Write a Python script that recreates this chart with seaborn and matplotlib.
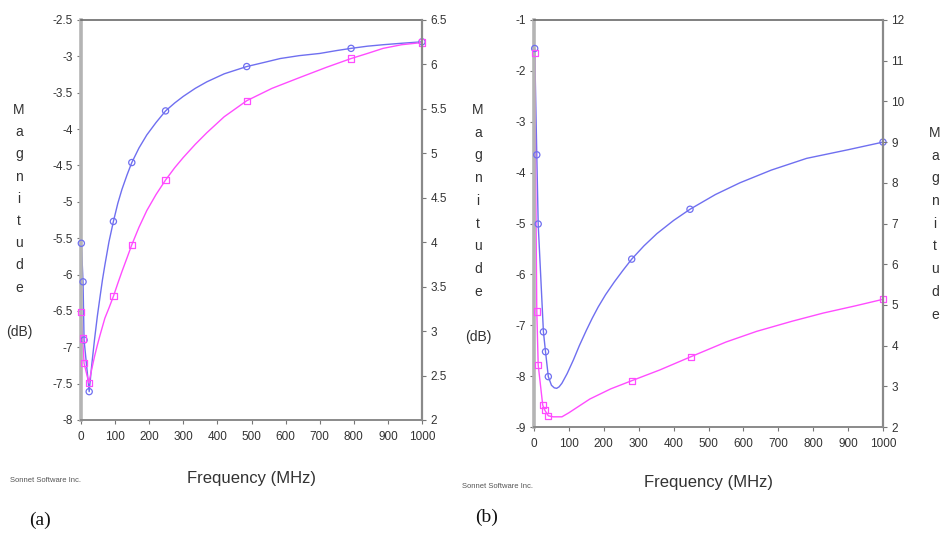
import matplotlib
matplotlib.use("Agg")
import matplotlib.pyplot as plt
import pandas as pd
import seaborn as sns

# ---- panel (a): transmission magnitude vs frequency ----
freq_a_blue = [1, 6, 9, 24, 32, 40, 48, 56, 63, 70, 82, 95, 108, 120, 135, 149, 170, 193, 220, 248,
               275, 300, 335, 369, 420, 486, 540, 584, 640, 700, 750, 792, 840, 886, 940, 1000]
mag_a_blue = [-5.57, -6.10, -6.90, -7.61, -7.22, -6.88, -6.57, -6.30, -6.07, -5.87, -5.55, -5.27,
              -5.02, -4.83, -4.63, -4.46, -4.26, -4.08, -3.91, -3.75, -3.64, -3.55, -3.44, -3.35,
              -3.24, -3.14, -3.08, -3.03, -2.99, -2.96, -2.92, -2.89, -2.86, -2.84, -2.82, -2.80]
marks_a_blue = [1, 6, 9, 24, 95, 149, 248, 486, 792, 1000]

freq_a_pink = [0, 5, 9, 23, 32, 40, 48, 56, 70, 82, 95, 108, 120, 135, 149, 170, 193, 220, 248, 275,
               300, 335, 369, 420, 486, 560, 642, 720, 792, 840, 886, 940, 1000]
mag_a_pink = [-6.52, -6.88, -7.22, -7.49, -7.29, -7.12, -6.97, -6.83, -6.60, -6.46, -6.30, -6.12,
              -5.96, -5.77, -5.59, -5.35, -5.12, -4.90, -4.70, -4.53, -4.39, -4.21, -4.05, -3.83,
              -3.61, -3.44, -3.29, -3.15, -3.03, -2.96, -2.89, -2.84, -2.81]
marks_a_pink = [0, 5, 9, 23, 95, 149, 248, 486, 792, 1000]

# ---- panel (b) ----
freq_b_blue = [2, 8, 12, 27, 33, 41, 50, 58, 65, 72, 80, 95, 113, 130, 150, 167, 184, 205, 230, 255,
               280, 315, 352, 400, 447, 520, 590, 680, 781, 900, 1000]
mag_b_blue = [-1.56, -3.65, -5.01, -7.13, -7.52, -8.01, -8.18, -8.23, -8.24, -8.21, -8.14, -7.95,
              -7.68, -7.40, -7.10, -6.86, -6.64, -6.40, -6.15, -5.92, -5.70, -5.44, -5.20, -4.94,
              -4.72, -4.43, -4.20, -3.95, -3.72, -3.55, -3.40]
marks_b_blue = [2, 8, 12, 27, 33, 41, 280, 447, 1000]

freq_b_pink = [2, 8, 12, 25, 31, 41, 55, 80, 100, 120, 160, 220, 280, 360, 449, 550, 638, 740, 829,
               920, 1000]
mag_b_pink = [-1.65, -6.73, -7.78, -8.57, -8.67, -8.78, -8.80, -8.80, -8.72, -8.63, -8.45, -8.25,
              -8.09, -7.88, -7.62, -7.33, -7.12, -6.92, -6.76, -6.62, -6.49]
marks_b_pink = [2, 8, 12, 25, 31, 41, 280, 449, 1000]

x_ticks = [0, 100, 200, 300, 400, 500, 600, 700, 800, 900, 1000]
y_ticks_a = [-8, -7.5, -7, -6.5, -6, -5.5, -5, -4.5, -4, -3.5, -3, -2.5]
y2_ticks_a = [2, 2.5, 3, 3.5, 4, 4.5, 5, 5.5, 6, 6.5]
y_ticks_b = [-9, -8, -7, -6, -5, -4, -3, -2, -1]
y2_ticks_b = [2, 3, 4, 5, 6, 7, 8, 9, 10, 11, 12]

BLUE = "#6f6ff0"
PINK = "#ff4cff"
TXT = "#333333"

sns.set_theme(style="white")
plt.rcParams["font.family"] = ["Liberation Sans", "DejaVu Sans"]
plt.rcParams["axes.unicode_minus"] = False

W, H = 946, 535
fig = plt.figure(figsize=(W / 100, H / 100), dpi=100)
fig.patch.set_facecolor("white")


def fmt(v):
    return f"{v:g}"


def draw_series(ax, freqs, mags, marks, color, marker, size):
    df = pd.DataFrame({"f": freqs, "m": mags})
    sns.lineplot(data=df, x="f", y="m", ax=ax, color=color, linewidth=1.0,
                 sort=False, estimator=None, clip_on=False)
    pts = df[df["f"].isin(marks)]
    sns.scatterplot(data=pts, x="f", y="m", ax=ax, marker=marker, s=size,
                    facecolor="none", edgecolor=color, linewidth=0.9,
                    clip_on=False, zorder=4)


def style_panel(ax, yticks, ylim, y2ticks, y2lim):
    ax.set_xlim(0, 1000)
    ax.set_ylim(*ylim)
    ax.set_xticks(x_ticks)
    ax.set_xticklabels([fmt(t) for t in x_ticks])
    ax.set_yticks(yticks)
    ax.set_yticklabels([fmt(t) for t in yticks])
    ax.set_xlabel("")
    ax.set_ylabel("")
    ax.tick_params(axis="both", which="major", length=3, width=0.8, color="#777777",
                   labelsize=8.5, labelcolor=TXT, direction="out")
    ax.tick_params(axis="x", pad=5, bottom=True)
    ax.tick_params(axis="y", pad=3, left=True)
    ax.spines["left"].set_color("#b4b4b4")
    ax.spines["left"].set_linewidth(2.6)
    ax.spines["top"].set_color("#6a6a6a")
    ax.spines["top"].set_linewidth(1.2)
    ax.spines["bottom"].set_color("#8a8a8a")
    ax.spines["bottom"].set_linewidth(1.4)
    ax.spines["right"].set_visible(False)

    ax2 = ax.twinx()
    ax2.set_ylim(*y2lim)
    ax2.set_yticks(y2ticks)
    ax2.set_yticklabels([fmt(t) for t in y2ticks])
    ax2.tick_params(axis="y", length=3, width=0.8, color="#777777", labelsize=8.5,
                    labelcolor=TXT, pad=3, right=True, direction="out")
    for side in ("left", "top", "bottom"):
        ax2.spines[side].set_visible(False)
    ax2.spines["right"].set_color("#8a8a8a")
    ax2.spines["right"].set_linewidth(1.6)
    ax2.grid(False)
    ax.grid(False)


ax_a = fig.add_axes([81 / W, 1 - 420 / H, 341 / W, 400 / H])
draw_series(ax_a, freq_a_blue, mag_a_blue, marks_a_blue, BLUE, "o", 20)
draw_series(ax_a, freq_a_pink, mag_a_pink, marks_a_pink, PINK, "s", 20)
style_panel(ax_a, y_ticks_a, (-8, -2.5), y2_ticks_a, (2, 6.5))

ax_b = fig.add_axes([534 / W, 1 - 427 / H, 349 / W, 407 / H])
draw_series(ax_b, freq_b_blue, mag_b_blue, marks_b_blue, BLUE, "o", 20)
draw_series(ax_b, freq_b_pink, mag_b_pink, marks_b_pink, PINK, "s", 20)
style_panel(ax_b, y_ticks_b, (-9, -1), y2_ticks_b, (2, 12))


def px_text(x, y, s, **kw):
    fig.text(x / W, 1 - y / H, s, **kw)


def stacked_label(x, y0, step, word, unit_y=None):
    for i, ch in enumerate(word):
        px_text(x, y0 + i * step, ch, ha="center", va="center", fontsize=10, color=TXT)
    if unit_y is not None:
        px_text(x, unit_y, "(dB)", ha="center", va="center", fontsize=10, color=TXT)


stacked_label(19, 110, 22.2, "Magnitude", unit_y=332)
stacked_label(478, 110, 22.7, "Magnitude", unit_y=337)
stacked_label(935, 133, 22.7, "Magnitude")

px_text(251, 478, "Frequency (MHz)", ha="center", va="center", fontsize=12, color=TXT)
px_text(708, 482, "Frequency (MHz)", ha="center", va="center", fontsize=12, color=TXT)
px_text(10, 480, "Sonnet Software Inc.", ha="left", va="center", fontsize=5.5, color="#555555")
px_text(462, 487, "Sonnet Software Inc.", ha="left", va="center", fontsize=5.5, color="#555555")
px_text(40, 520, "(a)", ha="center", va="center", fontsize=14, color="#111111",
        family=["Liberation Serif", "DejaVu Serif"])
px_text(487, 517, "(b)", ha="center", va="center", fontsize=14, color="#111111",
        family=["Liberation Serif", "DejaVu Serif"])

fig.savefig("out.png", dpi=100, facecolor="white")
